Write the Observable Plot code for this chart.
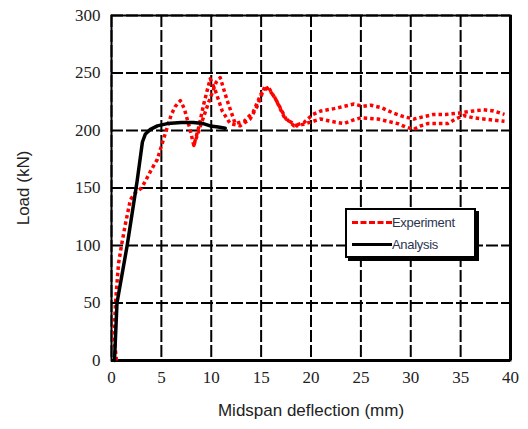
<!DOCTYPE html>
<html>
<head>
<meta charset="utf-8">
<script src="https://cdn.jsdelivr.net/npm/d3@7"></script>
<script src="https://cdn.jsdelivr.net/npm/@observablehq/plot@0.6"></script>
<style>
  html, body { margin: 0; padding: 0; background: #fff; }
  #wrap { position: relative; width: 528px; height: 429px; }
  #legend { position: absolute; left: 345px; top: 208px; width: 127px; height: 46px;
    border: 2px solid #000; background: #fff; box-shadow: 3px 3px 0 #000;
    font-family: "Liberation Sans", Arial, sans-serif; font-size: 13px; color: #2b3550; letter-spacing: -0.3px; }
  .row { position: absolute; left: 5px; height: 16px; display: flex; align-items: center; }
  .sw { width: 40px; height: 0; }
  svg text.serif { font-family: "Liberation Serif", "DejaVu Serif", "Times New Roman", serif !important; }
  svg text.sans { font-family: "Liberation Sans", "DejaVu Sans", Arial, sans-serif !important; }
</style>
</head>
<body>
<div id="wrap"></div>
<script>
// Experiment (two recorded strands), Midspan deflection (mm) vs Load (kN)
const expAx = [0.5,0.25,0.4,0.7,1.0,1.4,1.9,2.4,3.0,3.4,4.0,4.6,5.2,5.6,6.0,6.4,6.9,7.3,7.9,8.25,8.75,9.25,9.6,9.9,10.4,11.1,11.9,12.9,13.9,14.6,15.4,16.3,17.3,18.3,19.3,20.2,21.0,22.3,23.3,24.3,25.2,26.0,27.0,28.3,29.3,30.3,31.3,32.3,33.5,34.7,35.5,36.3,37.3,38.3,39.4];
const expAy = [0,20,50,84,100,119,140,146,150,156,166,175,192,203,214,221,226,219,200,187,203,223,235,245,235,217,206,204,210,221,239,230,212,204,207,214,217,219,221,223,221,222,220,215,212,210,212,214,214,215,216,217,218,217,214];
const expBx = [8.25,9.0,9.8,10.5,10.9,11.6,12.4,13.3,14.2,15.0,15.7,16.6,17.5,18.6,19.5,20.95,22.0,23.3,24.2,25.0,26.7,27.7,28.7,29.5,30.3,31.0,31.7,33.7,34.5,35.3,36.3,37.3,38.3,39.4];
const expBy = [187,206,226,242,246,226,206,208,216,232,238,225,210,204,206,210,208,206,209,211,210,208,206,203,201,204,206,206,210,213,211,210,209,208];
// Analysis
const anaX = [0.3,0.55,1.57,2.57,3.1,3.4,3.9,4.6,5.6,7.0,8.2,9.2,9.9,10.7,11.4];
const anaY = [0,50,100,156,190,197,201,204,206,207,207,206,204,203,202];
const xTicks = [0,5,10,15,20,25,30,35,40];
const yTicks = [0,50,100,150,200,250,300];
const xTitle = "Midspan deflection (mm)";
const yTitle = "Load (kN)";

const toRows = (xs, ys) => xs.map((x, i) => ({x, y: ys[i]}));
const expA = toRows(expAx, expAy);
const expB = toRows(expBx, expBy);
const ana = toRows(anaX, anaY);

const red = "#ff0000";
const chart = Plot.plot({
  width: 528, height: 429,
  marginLeft: 111, marginRight: 18, marginTop: 15, marginBottom: 69,
  style: { fontSize: "17px", color: "#222", background: "#fff" },
  x: { domain: [0, 40], ticks: xTicks },
  y: { domain: [0, 300], ticks: yTicks },
  marks: [
    Plot.gridX(xTicks, { stroke: "#000", strokeOpacity: 1, strokeWidth: 2, strokeDasharray: "12,3" }),
    Plot.gridY(yTicks, { stroke: "#000", strokeOpacity: 1, strokeWidth: 2, strokeDasharray: "12,3" }),
    Plot.frame({ stroke: "#000", strokeWidth: 2 }),
    Plot.ruleY([0], { stroke: "#000", strokeWidth: 3 }),
    Plot.ruleX([40], { stroke: "#000", strokeWidth: 3 }),
    Plot.axisX(xTicks, { tickSize: 0, tickPadding: 10, fontSize: 17, label: xTitle, labelAnchor: "center", labelOffset: 55, labelArrow: "none" }),
    Plot.axisY(yTicks, { tickSize: 0, tickPadding: 11, fontSize: 17, label: yTitle, labelAnchor: "center", labelOffset: 95, labelArrow: "none" }),
    Plot.line(expA, { x: "x", y: "y", stroke: red, strokeWidth: 3.5, strokeDasharray: "3.5,3", strokeLinecap: "butt" }),
    Plot.line(expB, { x: "x", y: "y", stroke: red, strokeWidth: 3.5, strokeDasharray: "3.5,3", strokeLinecap: "butt" }),
    Plot.line(ana, { x: "x", y: "y", stroke: "#000", strokeWidth: 3.5 })
  ]
});
// tick labels in serif, axis titles in sans-serif
chart.querySelectorAll("text").forEach(t => {
  const s = t.textContent.trim();
  const isTitle = (s === xTitle || s === yTitle);
  t.classList.add(isTitle ? "sans" : "serif");
  t.setAttribute("font-family", isTitle ? "Liberation Sans" : "Liberation Serif");
});
const wrap = document.getElementById("wrap");
wrap.appendChild(chart);

const legend = document.createElement("div");
legend.id = "legend";
legend.innerHTML =
  '<div class="row" style="top:4px"><div class="sw" style="border-top:3px dashed ' + red + '"></div><span>Experiment</span></div>' +
  '<div class="row" style="top:26px"><div class="sw" style="border-top:3px solid #000"></div><span>Analysis</span></div>';
wrap.appendChild(legend);
</script>
</body>
</html>
